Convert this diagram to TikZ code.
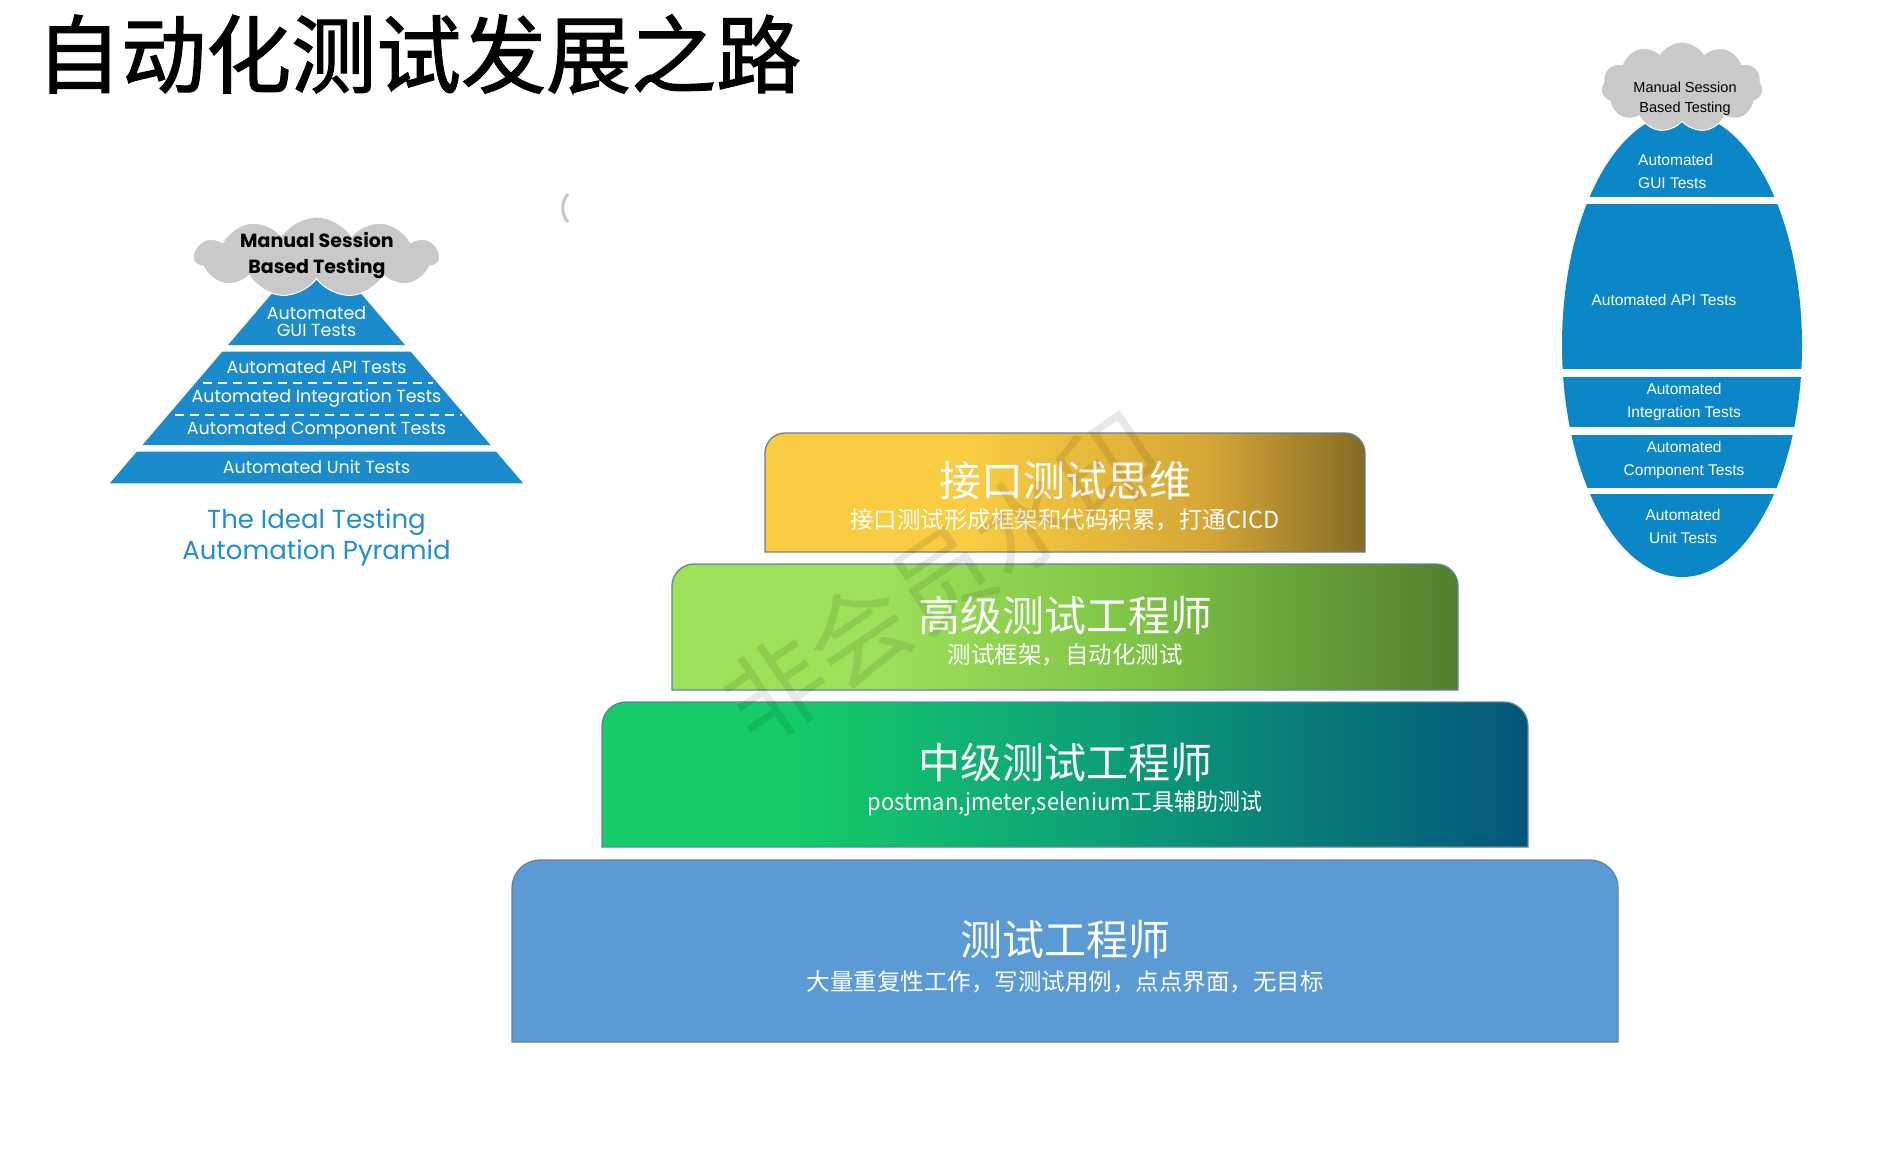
\documentclass[tikz,border=0pt]{standalone}
\usepackage{fontspec}
\newfontfamily\cjk{Noto Sans CJK SC}
\newfontfamily\cjkhead[FakeBold=1.5]{Noto Sans CJK SC}
\newfontfamily\geo{Poppins}
\newfontfamily\hel{Liberation Sans}
\usetikzlibrary{shapes.symbols}

\definecolor{yA}{HTML}{F9CC41}
\definecolor{yB}{HTML}{D5A636}
\definecolor{yC}{HTML}{866B26}
\definecolor{gA}{HTML}{9DE05A}
\definecolor{gB}{HTML}{7DC444}
\definecolor{gC}{HTML}{527F2E}
\definecolor{tA}{HTML}{15CC68}
\definecolor{tB}{HTML}{0CA077}
\definecolor{tC}{HTML}{03567A}
\definecolor{boxblue}{HTML}{5B9BD5}
\definecolor{boxedge}{HTML}{5F8497}
\definecolor{pyrblue}{HTML}{1B8BCB}
\definecolor{ellblue}{HTML}{0B87C7}
\definecolor{capblue}{HTML}{1E8FD0}
\definecolor{cloudgray}{HTML}{C9C9C9}

\pgfdeclarehorizontalshading{gradYellow}{100bp}{color(0bp)=(yA); color(25bp)=(yA); color(42bp)=(yA); color(62bp)=(yB); color(75bp)=(yC); color(100bp)=(yC)}
\pgfdeclarehorizontalshading{gradGreen}{100bp}{color(0bp)=(gA); color(25bp)=(gA); color(38bp)=(gA); color(55bp)=(gB); color(75bp)=(gC); color(100bp)=(gC)}
\pgfdeclarehorizontalshading{gradTeal}{100bp}{color(0bp)=(tA); color(25bp)=(tA); color(35bp)=(tA); color(52bp)=(tB); color(75bp)=(tC); color(100bp)=(tC)}

% x1 y1 x2 y2 radius style
\newcommand\stairbox[6]{%
  \path[#6] (#1,#4) -- (#1,{#2+#5}) .. controls (#1,{#2+0.45*#5}) and ({#1+0.45*#5},#2) .. ({#1+#5},#2)
    -- ({#3-#5},#2) .. controls ({#3-0.45*#5},#2) and (#3,{#2+0.45*#5}) .. (#3,{#2+#5}) -- (#3,#4) -- cycle;}

\tikzset{
  boxline/.style={draw=boxedge, line width=1.3},
  bigtitle/.style={text=white, inner sep=0, font=\cjk\fontsize{42}{46}\selectfont},
  subtitle/.style={text=white, inner sep=0, font=\cjk\fontsize{23.5}{26}\selectfont},
  pyrtext/.style={text=white, inner sep=0, align=center, font=\geo\fontsize{17.5}{17}\selectfont},
  elltext/.style={text=white, inner sep=0, align=center, font=\hel\fontsize{15.5}{23}\selectfont},
  cloudshape/.style={cloud, cloud puffs=11, cloud puff arc=115, fill=cloudgray, draw=white, line width=1, inner sep=0},
}

\begin{document}
\begin{tikzpicture}[x=1pt, y=-1pt]
\useasboundingbox[fill=white] (0,0) rectangle (1889,1171);

% ---- title
\node[anchor=west, inner sep=0, font=\cjkhead\fontsize{85}{86}\selectfont] (title) at (36,54) {自动化测试发展之路};

% ---- left pyramid
\fill[pyrblue] (316.5,241.5) -- (405,345) -- (228,345) -- cycle;
\fill[pyrblue] (222.3,351.7) -- (410.7,351.7) -- (490.5,445) -- (142.5,445) -- cycle;
\fill[pyrblue] (136.8,451.7) -- (496.2,451.7) -- (523.2,483.3) -- (109.8,483.3) -- cycle;
\draw[white, line width=1.6, dash pattern=on 9 off 6] (203,382.7) -- (433,382.7);
\draw[white, line width=1.6, dash pattern=on 9 off 6] (175,415) -- (462,415);
\node[cloudshape, aspect=3.4, minimum width=245, minimum height=80] (lcloud) at (316.5,257) {};
\node[inner sep=0, align=center, font=\geo\bfseries\fontsize{19}{26}\selectfont] (lcloudtxt) at (317,255) {Manual Session\\Based Testing};
\node[pyrtext] (lgui) at (316.5,321.5) {Automated\\GUI Tests};
\node[pyrtext] (lapi) at (316.5,366.7) {Automated API Tests};
\node[pyrtext] (lint) at (316.5,398.5) {Automated Integration Tests};
\node[pyrtext] (lcomp) at (316.5,430.5) {Automated Component Tests};
\node[pyrtext] (lunit) at (316.5,467) {Automated Unit Tests};
\node[inner sep=0, align=center, text=capblue, font=\geo\fontsize{26}{31}\selectfont] (lcap) at (316.5,537) {The Ideal Testing\\Automation Pyramid};

% small grey mark
\draw[gray!45, line width=3] (568,194) .. controls (561,202) and (561,214) .. (568,222);

% ---- right ellipse
\begin{scope}
  \clip (1682,345) ellipse [x radius=120, y radius=232];
  \fill[ellblue] (1550,100) rectangle (1820,197);
  \fill[ellblue] (1550,204) rectangle (1820,369);
  \fill[ellblue] (1550,376.5) rectangle (1820,427);
  \fill[ellblue] (1550,435) rectangle (1820,488);
  \fill[ellblue] (1550,494) rectangle (1820,580);
\end{scope}
\node[cloudshape, aspect=1.9, minimum width=162, minimum height=90] (rcloud) at (1682,87) {};
\node[inner sep=0, align=center, font=\hel\fontsize{14.5}{20.5}\selectfont] (rcloudtxt) at (1685,98.5) {Manual Session\\Based Testing};
\node[elltext, align=left, anchor=west] (rgui) at (1638,171) {Automated\\GUI Tests};
\node[elltext] (rapi) at (1664,300) {Automated API Tests};
\node[elltext] (rint) at (1684,402) {Automated\\Integration Tests};
\node[elltext] (rcomp) at (1684,460) {Automated\\Component Tests};
\node[elltext] (runit) at (1683,526) {Automated\\Unit Tests};

% ---- stair boxes
\stairbox{765}{433}{1365}{552}{20}{shade, shading=gradYellow, boxline}
\stairbox{672}{564}{1458}{690}{22}{shade, shading=gradGreen, boxline}
\stairbox{602}{702}{1528}{847}{24}{shade, shading=gradTeal, boxline}
\stairbox{512}{860}{1618}{1042}{28}{fill=boxblue, boxline}

\node[bigtitle] (t1) at (1065,481) {接口测试思维};
\node[subtitle] (s1) at (1065,520) {接口测试形成框架和代码积累，打通CICD};
\node[bigtitle] (t2) at (1065,616) {高级测试工程师};
\node[subtitle] (s2) at (1065,655) {测试框架，自动化测试};
\node[bigtitle] (t3) at (1065,763) {中级测试工程师};
\node[subtitle, xscale=0.934] (s3) at (1065,803) {postman,jmeter,selenium工具辅助测试};
\node[bigtitle] (t4) at (1065,940) {测试工程师};
\node[subtitle] (s4) at (1065,982) {大量重复性工作，写测试用例，点点界面，无目标};

% watermark
\node[rotate=34, opacity=0.09, text=black, inner sep=0, font=\cjk\fontsize{100}{100}\selectfont] (wm) at (942,578) {非会员水印};
\end{tikzpicture}
\end{document}
